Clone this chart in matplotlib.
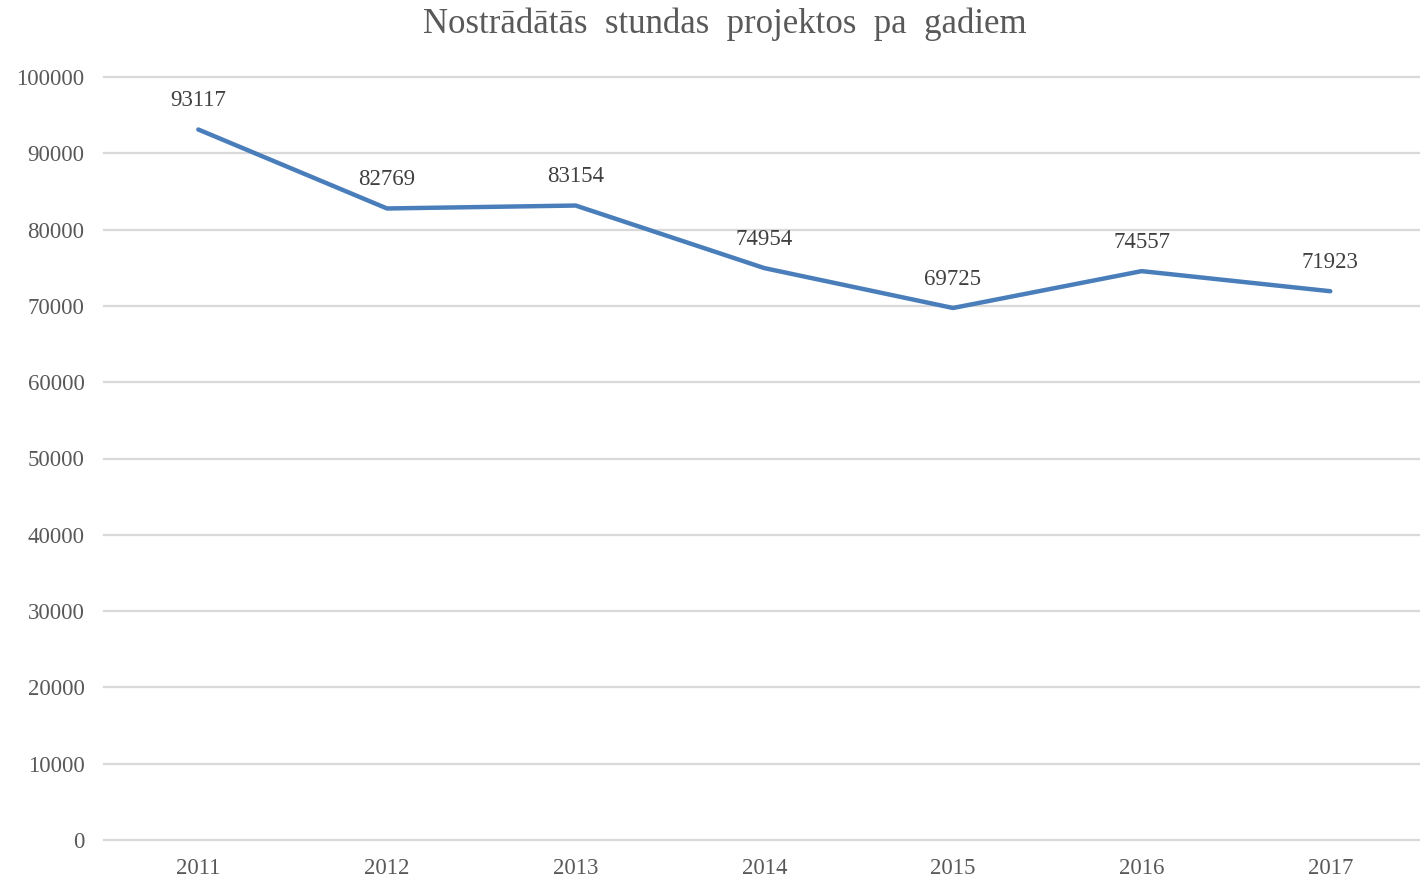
import matplotlib.pyplot as plt

years = ['2011', '2012', '2013', '2014', '2015', '2016', '2017']
hours = [93117, 82769, 83154, 74954, 69725, 74557, 71923]
yticks = list(range(0, 100001, 10000))

plt.rcParams['font.family'] = ['Liberation Serif', 'DejaVu Serif']

fig = plt.figure(figsize=(14.2, 8.81), dpi=100)
ax = fig.add_axes([104 / 1420, 1 - 840 / 881, 1316 / 1420, (840 - 77) / 881])

x = list(range(len(years)))
ax.plot(x, hours, color='#4a7ebb', linewidth=3.2, solid_capstyle='round', zorder=3)

for xi, v in zip(x, hours):
    ax.annotate(str(v), (xi, v), xytext=(0, 13), textcoords='offset points',
                ha='center', va='bottom', fontsize=16.5, color='#404040')

ax.set_xlim(-0.5, 6.5 * 1316 / 1321)
ax.set_ylim(0, 100000)
ax.set_yticks(yticks)
ax.set_xticks(x)
ax.set_xticklabels(years)
ax.grid(axis='y', color='#d9d9d9', linewidth=1.6, clip_on=False)
ax.set_axisbelow(True)
for s in ax.spines.values():
    s.set_visible(False)
ax.tick_params(length=0, labelsize=16.5, labelcolor='#595959')
ax.tick_params(axis='y', pad=14)
ax.tick_params(axis='x', pad=13)

fig.text(725 / 1420, 1 - 24 / 881, 'Nostrādātās  stundas  projektos  pa  gadiem',
         ha='center', va='center', fontsize=25, color='#595959')

fig.savefig('out.png', dpi=100)
